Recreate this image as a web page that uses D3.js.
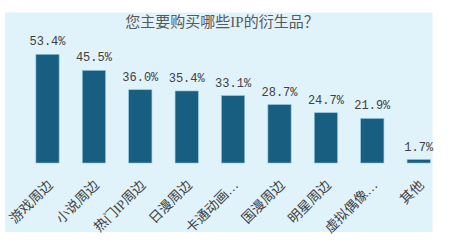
<!DOCTYPE html>
<html><head><meta charset="utf-8">
<script src="https://cdn.jsdelivr.net/npm/d3@7/dist/d3.min.js"></script>
<style>
html,body{margin:0;padding:0;background:#fff;}
</style></head>
<body>
<script>
const title = "您主要购买哪些IP的衍生品？";
const categories = ["游戏周边","小说周边","热门IP周边","日漫周边","卡通动画…","国漫周边","明星周边","虚拟偶像…","其他"];
const values = [53.4, 45.5, 36.0, 35.4, 33.1, 28.7, 24.7, 21.9, 1.7];
const valueLabels = ["53.4%","45.5%","36.0%","35.4%","33.1%","28.7%","24.7%","21.9%","1.7%"];

const W = 451, H = 248;
const svg = d3.select("body").append("svg").attr("width", W).attr("height", H);

svg.append("rect").attr("x", 5).attr("y", 12.5).attr("width", 427.5).attr("height", 219.5).attr("fill", "#e0f2fa");

svg.append("text").attr("x", 222).attr("y", 26.5).attr("text-anchor", "middle")
  .attr("font-family", "'Liberation Serif','Noto Sans CJK SC',serif").attr("font-size", 15)
  .attr("fill", "#595959").text(title);

const x = d3.scaleBand().domain(categories).range([24.3, 441.9]).paddingInner(0.5).paddingOuter(0.25);
const y = d3.scaleLinear().domain([0, 60]).range([163, 40.9]);

svg.selectAll("rect.bar").data(values).join("rect").attr("class", "bar")
  .attr("x", (d, i) => x(categories[i]))
  .attr("y", d => y(d))
  .attr("width", x.bandwidth())
  .attr("height", d => y(0) - y(d))
  .attr("fill", "#175e80")
  .attr("stroke", "#8cc4dc").attr("stroke-width", 0.6);

svg.selectAll("text.val").data(values).join("text").attr("class", "val")
  .attr("x", (d, i) => x(categories[i]) + x.bandwidth() / 2)
  .attr("y", d => y(d) - 9)
  .attr("text-anchor", "middle")
  .attr("font-family", "'Liberation Mono',monospace").attr("font-size", 12)
  .attr("fill", "#404040")
  .text((d, i) => valueLabels[i]);

svg.selectAll("text.cat").data(categories).join("text").attr("class", "cat")
  .attr("transform", d => `translate(${x(d) + x.bandwidth() / 2 + 6},${186}) rotate(-45)`)
  .attr("text-anchor", "end")
  .attr("font-family", "'Liberation Serif','Noto Sans CJK SC',serif").attr("font-size", 13.5)
  .attr("fill", "#404040")
  .text(d => d);
</script>
</body></html>
